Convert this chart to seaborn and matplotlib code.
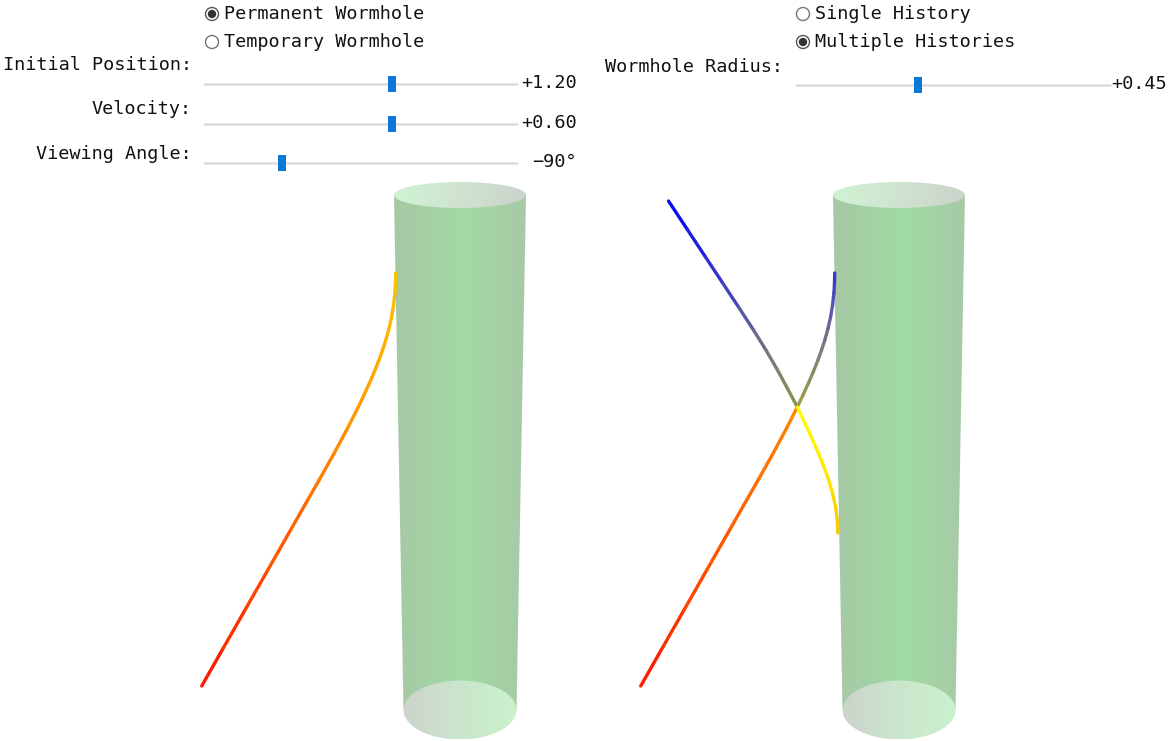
import numpy as np
import matplotlib
matplotlib.use("Agg")
import matplotlib.pyplot as plt
import seaborn as sns
from matplotlib.collections import LineCollection
from matplotlib.patches import Ellipse, Polygon, Circle, Rectangle
from matplotlib.colors import LinearSegmentedColormap, to_rgb

# radio button groups
mode_options = ["Permanent Wormhole", "Temporary Wormhole"]
mode_selected = 0
history_options = ["Single History", "Multiple Histories"]
history_selected = 1

# sliders
left_slider_labels = ["Initial Position:", "Velocity:", "Viewing Angle:"]
left_slider_values = [1.20, 0.60, -90]
left_slider_ranges = [(0, 2), (0, 1), (-180, 180)]
left_slider_texts = ["+1.20", "+0.60", "\u221290\u00b0"]
right_slider_labels = ["Wormhole Radius:"]
right_slider_values = [0.45]
right_slider_ranges = [(0.1, 1.0)]
right_slider_texts = ["+0.45"]

# worldline of the first history (x relative to wormhole axis, y = height above base)
hist1_x = [-258.3, -237.8, -215.0, -192.2, -169.4, -152.3, -140.3, -125.7, -111.8, -101.7, -96.0,
           -90.5, -85.8, -81.0, -77.4, -74.2, -71.1, -68.4, -66.4, -65.1, -64.5, -64.3]
hist1_y = [24, 60, 100, 140, 180, 210, 231, 257, 283, 303, 315,
           327, 338, 350, 360, 370, 381, 393, 405, 417, 427, 437]

# second history (only in the multiple histories view)
hist2_x = [-230.5, -212, -193.5, -177, -160.5, -145.5, -133.1, -121.5, -110.7, -101.7,
           -95.6, -89.5, -82.8, -76.5, -71.0, -66.5, -63.4, -61.7, -61.1]
hist2_y = [509, 481, 453, 428, 403, 380, 360, 340, 320, 303,
           290, 277, 262, 247, 232, 217, 203, 190, 177]

# colour stops along height
left_h1_stop_y = [24, 130, 231, 300, 370, 437]
left_h1_stop_c = ["#ff1000", "#ff4800", "#ff7a00", "#ff9a00", "#ffb200", "#f2c400"]
right_h1_stop_y = [24, 130, 240, 302.9, 303.1, 350, 400, 437]
right_h1_stop_c = ["#ff1200", "#ff4a00", "#ff7000", "#ff8a00", "#a0a042", "#848470", "#5c5ca8", "#3535cc"]
right_h2_stop_y = [177, 230, 302.9, 303.1, 360, 420, 509]
right_h2_stop_c = ["#f2c800", "#ffe600", "#ffff00", "#909050", "#75757f", "#4040c0", "#0000ff"]

# wormhole mouth (cylinder) geometry
cyl_top_y = 515
cyl_top_rx, cyl_top_ry = 66, 13
cyl_base_rx, cyl_base_ry = 56.5, 29.5
body_colors = [(0.0, "#a6c8a6"), (0.55, "#a1dba2"), (1.0, "#a7c9a7")]
top_colors = [(0.0, "#d0f3d3"), (0.5, "#cfe3d0"), (1.0, "#cbd4cb")]
base_colors = [(0.0, "#cbd4cb"), (0.5, "#cbe6cd"), (1.0, "#c9f2cc")]

FS = 13.3


def gradient_fill(ax, colors, extent, clip):
    cmap = LinearSegmentedColormap.from_list("g", colors)
    grad = np.linspace(0, 1, 256)[None, :]
    im = ax.imshow(grad, cmap=cmap, extent=extent, aspect="auto",
                   interpolation="bilinear", zorder=2)
    ax.add_patch(clip)
    im.set_clip_path(clip)


def draw_cylinder(ax):
    body = Polygon([(-cyl_top_rx, cyl_top_y), (cyl_top_rx, cyl_top_y),
                    (cyl_base_rx, 0), (-cyl_base_rx, 0)], closed=True,
                   fc="none", ec="none")
    gradient_fill(ax, body_colors, (-cyl_top_rx, cyl_top_rx, 0, cyl_top_y), body)
    base = Ellipse((0, 0), 2 * cyl_base_rx, 2 * cyl_base_ry, fc="none", ec="none")
    gradient_fill(ax, base_colors,
                  (-cyl_base_rx, cyl_base_rx, -cyl_base_ry, cyl_base_ry), base)
    top = Ellipse((0, cyl_top_y), 2 * cyl_top_rx, 2 * cyl_top_ry, fc="none", ec="none")
    gradient_fill(ax, top_colors,
                  (-cyl_top_rx, cyl_top_rx, cyl_top_y - cyl_top_ry, cyl_top_y + cyl_top_ry), top)


def draw_worldline(ax, xs, ys, stop_y, stop_c, lw=2.4):
    pts = np.column_stack([xs, ys]).astype(float)
    segs = np.stack([pts[:-1], pts[1:]], axis=1)
    mid = (pts[:-1, 1] + pts[1:, 1]) / 2
    rgb = np.array([to_rgb(c) for c in stop_c])
    cols = np.column_stack([np.interp(mid, stop_y, rgb[:, k]) for k in range(3)])
    lc = LineCollection(segs, colors=cols, linewidths=lw,
                        capstyle="round", joinstyle="round", zorder=4)
    ax.add_collection(lc)


def draw_radio(ax, x, y, options, selected):
    for i, opt in enumerate(options):
        cy = y + i * 28
        on = i == selected
        ax.add_patch(Circle((x, cy), 6.5, fc="white", ec="#555555" if on else "#767676", lw=1.0))
        if on:
            ax.add_patch(Circle((x, cy), 4.2, fc="#333333", ec="none"))
        ax.text(x + 12, cy, opt, ha="left", va="center", fontsize=FS, color="#111111")


def draw_slider(ax, x0, x1, y, value, vrange, text, text_x):
    ax.plot([x0, x1], [y, y], color="#dcdcdc", lw=1.8, solid_capstyle="round", zorder=2)
    frac = (value - vrange[0]) / (vrange[1] - vrange[0])
    hx = x0 + frac * (x1 - x0)
    ax.add_patch(Rectangle((hx - 4, y - 8), 8, 16, fc="#0b78d7", ec="none", zorder=3))
    ax.text(text_x, y - 1, text, ha="right", va="center", fontsize=FS, color="#111111")


def main():
    sns.set_theme(style="white")
    plt.rcParams["font.family"] = ["DejaVu Sans Mono", "DejaVu Sans"]

    fig = plt.figure(figsize=(11.68, 7.41), dpi=100)
    ui = fig.add_axes([0, 0, 1, 1])
    ui.set_xlim(0, 1168)
    ui.set_ylim(741, 0)
    ui.axis("off")

    # controls, left block
    draw_radio(ui, 212, 14, mode_options, mode_selected)
    left_label_y = [65, 109, 154]
    left_track_y = [84, 124, 163]
    for lab, ly, ty, val, rng, txt in zip(left_slider_labels, left_label_y, left_track_y,
                                          left_slider_values, left_slider_ranges, left_slider_texts):
        ui.text(192, ly, lab, ha="right", va="center", fontsize=FS, color="#111111")
        draw_slider(ui, 204, 517, ty, val, rng, txt, 577)

    # controls, right block
    draw_radio(ui, 803, 14, history_options, history_selected)
    for lab, val, rng, txt in zip(right_slider_labels, right_slider_values,
                                  right_slider_ranges, right_slider_texts):
        ui.text(783, 67, lab, ha="right", va="center", fontsize=FS, color="#111111")
        draw_slider(ui, 796, 1110, 85, val, rng, txt, 1167)

    # scene panels: data units are screen pixels centred on the wormhole axis
    ax_l = fig.add_axes([190 / 1168, 0, 410 / 1168, 566 / 741])
    ax_r = fig.add_axes([630 / 1168, 0, 410 / 1168, 566 / 741])
    for ax in (ax_l, ax_r):
        ax.axis("off")
        ax.patch.set_alpha(0)
        draw_cylinder(ax)

    draw_worldline(ax_l, hist1_x, hist1_y, left_h1_stop_y, left_h1_stop_c)
    draw_worldline(ax_r, hist1_x, hist1_y, right_h1_stop_y, right_h1_stop_c)
    draw_worldline(ax_r, hist2_x, hist2_y, right_h2_stop_y, right_h2_stop_c)

    ax_l.set_xlim(-270, 140)
    ax_l.set_ylim(-31, 535)
    ax_r.set_xlim(-269, 141)
    ax_r.set_ylim(-31, 535)

    fig.savefig("out.png", dpi=100, facecolor="white")
    plt.close(fig)


if __name__ == "__main__":
    main()
